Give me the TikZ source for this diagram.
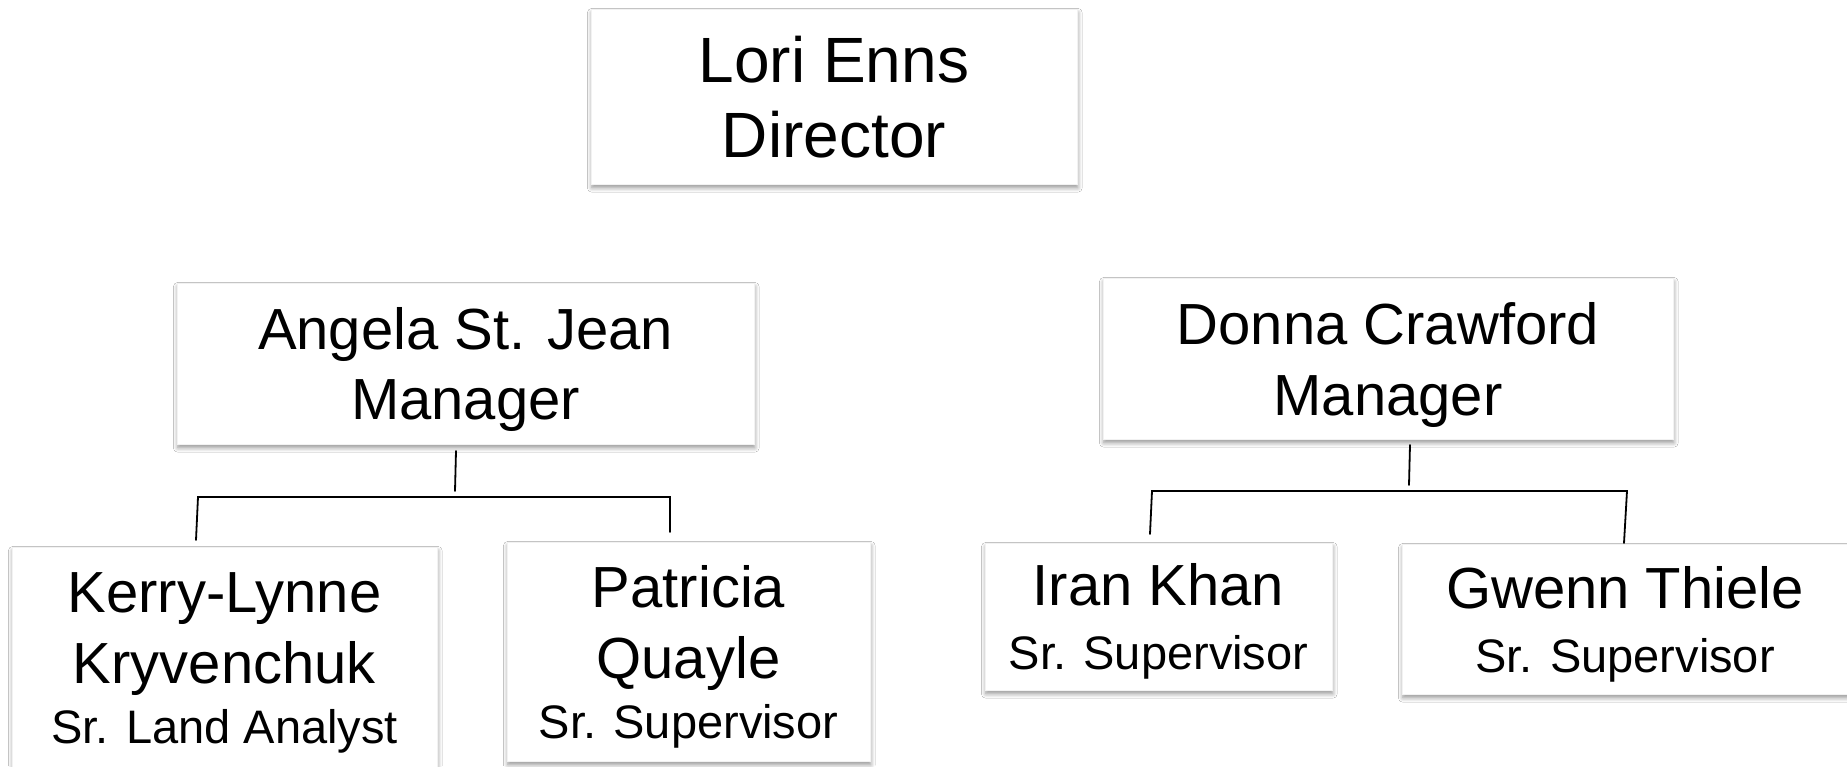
\documentclass[tikz,border=0pt]{standalone}
\usepackage{fontspec}
\setmainfont{Liberation Sans}
\usetikzlibrary{shadows.blur}
\newcommand{\nodepth}[1]{\raisebox{0pt}[\height][0pt]{#1}}
\begin{document}
\begin{tikzpicture}[x=0.5pt,y=-0.5pt,
  card/.style={draw=black!5, line width=0.3pt, fill=white, inner sep=0pt, align=center,
     blur shadow={shadow xshift=0.4pt, shadow yshift=-1.9pt, shadow blur radius=2.2pt,
                  shadow blur steps=6, shadow opacity=42}},
  namefont/.style={font=\fontsize{29}{35}\selectfont},
  conn/.style={draw=black, line width=0.9pt, line cap=round}]
\useasboundingbox (0,0) rectangle (1847,766);
\fill[white] (0,0) rectangle (1847,766);

\node[card, minimum width=243pt, minimum height=87.5pt, font=\fontsize{32}{37.5}\selectfont]
  (lori) at (834,96.5) {Lori Enns\\\nodepth{Director}};
\node[card, namefont, minimum width=288.5pt, minimum height=80.5pt]
  (angela) at (465.5,363.5) {Angela St. Jean\\\nodepth{Manager}};
\node[card, namefont, minimum width=285pt, minimum height=80.5pt]
  (donna) at (1388,358.5) {Donna Crawford\\[0.5pt]\nodepth{Manager}};
\node[card, namefont, minimum width=212.5pt, minimum height=111pt]
  (kerry) at (224.5,658) {Kerry-Lynne\\[0.5pt]Kryvenchuk\\[-5pt]\nodepth{\fontsize{23.5}{28}\selectfont Sr. Land Analyst}};
\node[card, namefont, minimum width=181.5pt, minimum height=109.5pt]
  (patricia) at (688.5,651.5) {Patricia\\[0.5pt]Quayle\\[-5pt]\nodepth{\fontsize{23.5}{28}\selectfont Sr. Supervisor}};
\node[card, namefont, minimum width=173.5pt, minimum height=73.5pt]
  (iran) at (1158.5,616.5) {Iran Khan\\[-3pt]\nodepth{\fontsize{23.5}{28}\selectfont Sr. Supervisor}};
\node[card, namefont, minimum width=223pt, minimum height=75pt]
  (gwenn) at (1625,619) {Gwenn Thiele\\[-3pt]\nodepth{\fontsize{23.5}{28}\selectfont Sr. Supervisor}};

% Angela's branch
\coordinate (aTop) at (456,451);
\coordinate (aBot) at (455,491);
\coordinate (aL) at (196,540);
\coordinate (aLc) at (198,497);
\coordinate (aRc) at (670,497);
\coordinate (aR) at (670,532);
\draw[conn] (aTop) -- (aBot);
\draw[conn] (aL) -- (aLc) -- (aRc) -- (aR);

% Donna's branch
\coordinate (dTop) at (1410,445);
\coordinate (dBot) at (1409,485);
\coordinate (dL) at (1150,534);
\coordinate (dLc) at (1152,491);
\coordinate (dRc) at (1627,491);
\coordinate (dR) at (1624,543);
\draw[conn] (dTop) -- (dBot);
\draw[conn] (dL) -- (dLc) -- (dRc) -- (dR);
\end{tikzpicture}
\end{document}
